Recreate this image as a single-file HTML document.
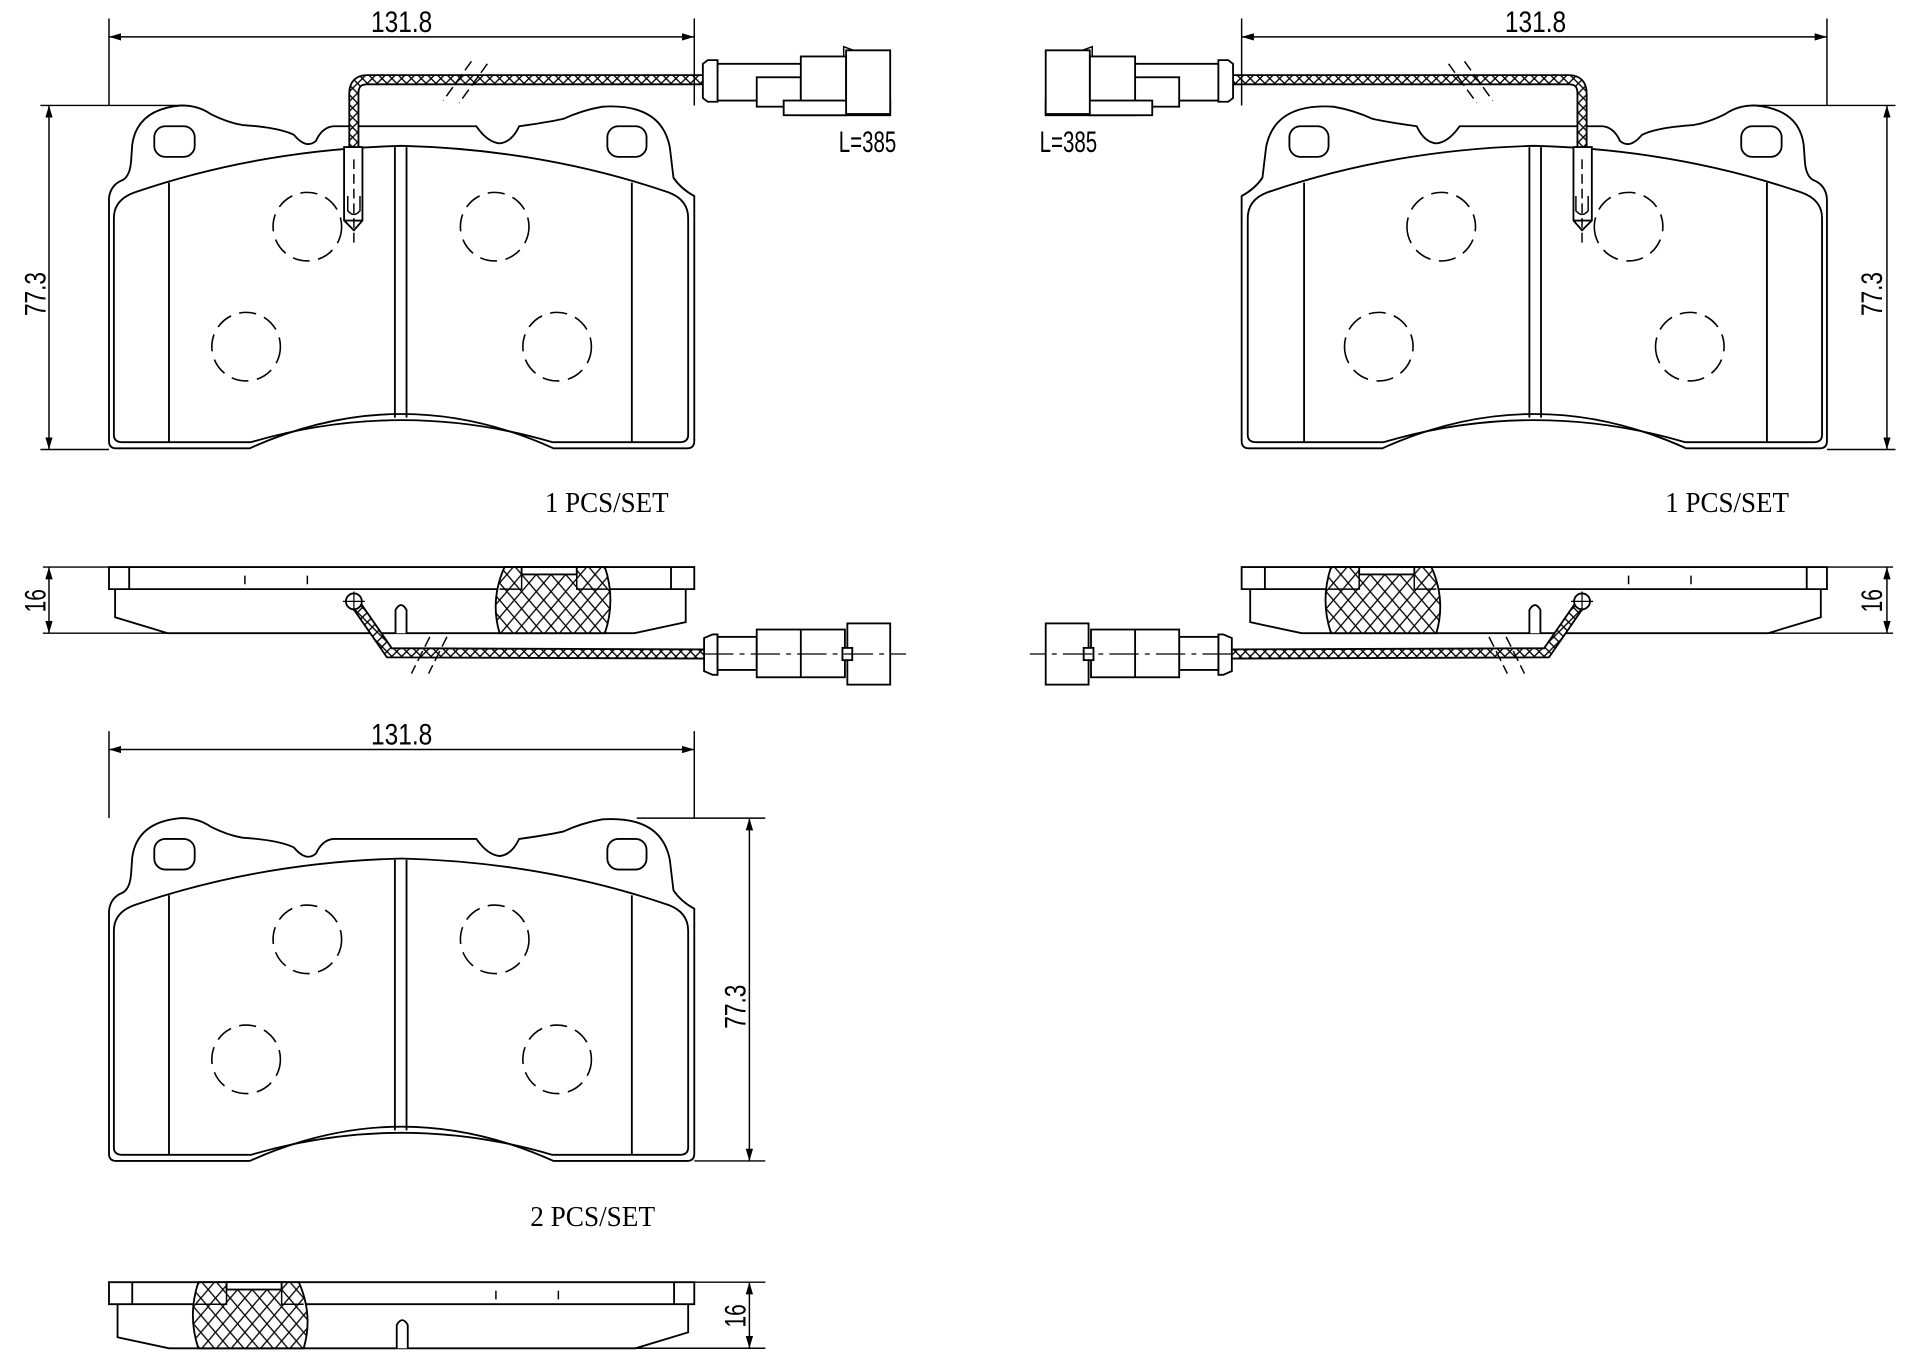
<!DOCTYPE html>
<html><head><meta charset="utf-8"><style>
html,body{margin:0;padding:0;background:#fff;}
svg{display:block;}
.t{font-family:"Liberation Sans",sans-serif;font-size:24px;fill:#000;}
.s{font-family:"Liberation Serif",serif;font-size:23px;fill:#000;}
</style></head><body>
<svg width="1920" height="1357" viewBox="0 0 1568 1108" xmlns="http://www.w3.org/2000/svg">
<defs>
<pattern id="xh" width="12" height="14" patternUnits="userSpaceOnUse">
<rect width="12" height="14" fill="#fff"/>
<path d="M0,0 L12,14 M12,0 L0,14" stroke="#000" stroke-width="1.1"/>
</pattern>
<pattern id="xw" width="8" height="8" patternUnits="userSpaceOnUse">
<rect width="8" height="8" fill="#fff"/>
<path d="M0,0 L8,8 M8,0 L0,8" stroke="#000" stroke-width="1.1"/>
</pattern>
<marker id="ar" viewBox="0 0 10 6" refX="10" refY="3" markerWidth="10" markerHeight="6" orient="auto-start-reverse" markerUnits="userSpaceOnUse">
<path d="M0,0 L10,3 L0,6 Z" fill="#000"/>
</marker>

<g id="pad" fill="none" stroke="#000" stroke-width="1.5">
<path d="M89,360 L89,162 Q90,151 100,147 Q106,144 107,132 L108,118 Q112,89 148,86 Q162,86 172,93 Q186,100 198,102 Q228,104 240,110 Q250,122 258,115 Q263,104 272,103 L389,103 Q398,116 408,117 Q418,116 424,103 Q446,100 460,97 Q475,90 492,87 Q540,84 547,120 L550,145 Q556,154 567,160 L567,360 Q567,366 561,366 L452,366 Q390,338 328,338 Q266,338 204,366 L95,366 Q89,366 89,360 Z"/>
<path d="M93,355 L93,178 Q93,163 110,157 Q212,122 328,119 Q444,122 546,157 Q562,163 562,178 L562,355 Q562,361 555,361 L451,361 Q390,343 328,343 Q266,343 205,361 L100,361 Q93,361 93,355 Z"/>
<rect x="126" y="103" width="33" height="25" rx="9"/>
<rect x="496" y="103" width="32" height="25" rx="9"/>
<path d="M138,149 V361 M516,149 V361 M322.5,120 V341 M332,120 V341"/>
<g stroke-dasharray="14,7" stroke-width="1.3">
<circle cx="251" cy="185" r="28"/>
<circle cx="404" cy="185" r="28"/>
<circle cx="201" cy="283" r="28"/>
<circle cx="455" cy="283" r="28"/>
</g>
</g>

<g id="sensorTop" fill="none" stroke="#000" stroke-width="1.5">
<path d="M574,65 L300,65 Q289,65 289,76 L289,120" stroke-width="9"/>
<path d="M574,65 L300,65 Q289,65 289,76 L289,120" stroke="url(#xw)" stroke-width="6"/>
<path d="M385,50 L362,82 M398,52 L375,84" stroke-width="1.2" stroke-dasharray="9,4"/>
<path d="M281,120 H296 V180 L289,188 L281,180 Z" fill="#fff"/>
<path d="M289,130 V200" stroke-dasharray="8,4" stroke-width="1.2"/>
<path d="M284,160 V172 Q289,178 294,172 V160" stroke-width="1.2"/>
<path d="M281,180 H296"/>
<path d="M574,52 L578,49 H586 V83 H578 L574,80 Z" fill="#fff"/>
<path d="M586,52 H654 M586,82 H618"/>
<rect x="618" y="63" width="36" height="24" fill="#fff"/>
<rect x="654" y="46" width="37" height="48" fill="#fff"/>
<rect x="640" y="82" width="87" height="12" fill="#fff"/>
<rect x="691" y="41" width="36" height="52" fill="#fff"/>
<path d="M689,46 V38 L697,41" stroke-width="1.2"/>
</g>

<g id="side" fill="none" stroke="#000" stroke-width="1.5">
<path d="M89,463 H567 V481 H89 Z"/>
<path d="M105.5,463 V481 M548,463 V481"/>
<path d="M94,481 V504 L137,517 H518 L560,508 V481"/>
<path d="M200,470 V477 M251,470 V477" stroke-width="1.2"/>
<path d="M412,463 Q400,490 408,517 H494 Q503,490 494,463 Z" fill="url(#xh)"/>
<rect x="426" y="463" width="45" height="6" fill="#fff"/>
<path d="M408,481 H426 V463 M471,463 V481 H496" stroke-width="1.2"/>
<path d="M323,517 V498 Q327.5,490 332,498 V517" fill="#fff"/>
</g>

<g id="sensorSide" fill="none" stroke="#000" stroke-width="1.5">
<path d="M291,494 L318,533 L575,534" stroke-width="9"/>
<path d="M291,494 L318,533 L575,534" stroke="url(#xw)" stroke-width="6"/>
<circle cx="289" cy="491" r="6.5" fill="#fff"/>
<path d="M280,491 H298 M289,483 V499" stroke-width="1"/>
<path d="M351,520 L336,550 M365,520 L350,550" stroke-width="1.2" stroke-dasharray="9,4"/>
<path d="M575,521 L582,518 H586 V551 H582 L575,548 Z" fill="#fff"/>
<rect x="586" y="520" width="32" height="27" fill="#fff"/>
<rect x="618" y="514" width="72" height="39" fill="#fff"/>
<path d="M654,514 V553"/>
<rect x="692" y="509" width="35" height="50" fill="#fff"/>
<rect x="688" y="529" width="8" height="10" fill="#fff"/>
<path d="M575,534 H740" stroke-width="1" stroke-dasharray="24,5,4,5"/>
</g>

<g id="dimsTL" fill="none" stroke="#000" stroke-width="1.2">
<path d="M89,15 V86 M567,15 V86"/>
<path d="M89,30 H567" marker-start="url(#ar)" marker-end="url(#ar)"/>
<path d="M33,86 H150 M33,367 H89"/>
<path d="M40,86 V367" marker-start="url(#ar)" marker-end="url(#ar)"/>
<path d="M35,463 H89 M35,517 H137"/>
<path d="M40,463 V517" marker-start="url(#ar)" marker-end="url(#ar)"/>
</g>

<g id="TL">
<use href="#pad"/><use href="#sensorTop"/><use href="#side"/><use href="#sensorSide"/><use href="#dimsTL"/>
</g>
</defs>

<use href="#TL"/>
<use href="#TL" transform="translate(1581,0) scale(-1,1)"/>

<use href="#pad" transform="translate(0,582)"/>
<use href="#side" transform="translate(656,584) scale(-1,1)"/>
<g fill="none" stroke="#000" stroke-width="1.2">
<path d="M89,597 V668 M567,597 V668"/>
<path d="M89,612 H567" marker-start="url(#ar)" marker-end="url(#ar)"/>
<path d="M520,668 H625 M567,948 H625"/>
<path d="M612,668 V948" marker-start="url(#ar)" marker-end="url(#ar)"/>
<path d="M567,1047 H625 M519,1101 H625"/>
<path d="M612,1047 V1101" marker-start="url(#ar)" marker-end="url(#ar)"/>
</g>

<text class="t" x="303" y="26" textLength="50" lengthAdjust="spacingAndGlyphs">131.8</text>
<text class="t" x="1229" y="26" textLength="50" lengthAdjust="spacingAndGlyphs">131.8</text>
<text class="t" x="303" y="608" textLength="50" lengthAdjust="spacingAndGlyphs">131.8</text>
<text class="t" x="685" y="124" textLength="47" lengthAdjust="spacingAndGlyphs">L=385</text>
<text class="t" x="849" y="124" textLength="47" lengthAdjust="spacingAndGlyphs">L=385</text>
<text class="t" transform="translate(37,258) rotate(-90)" textLength="36" lengthAdjust="spacingAndGlyphs">77.3</text>
<text class="t" transform="translate(1537,258) rotate(-90)" textLength="36" lengthAdjust="spacingAndGlyphs">77.3</text>
<text class="t" transform="translate(609,840) rotate(-90)" textLength="36" lengthAdjust="spacingAndGlyphs">77.3</text>
<text class="t" transform="translate(37,500) rotate(-90)" textLength="19" lengthAdjust="spacingAndGlyphs">16</text>
<text class="t" transform="translate(1537,500) rotate(-90)" textLength="19" lengthAdjust="spacingAndGlyphs">16</text>
<text class="t" transform="translate(609,1084) rotate(-90)" textLength="19" lengthAdjust="spacingAndGlyphs">16</text>
<text class="s" x="445" y="418" textLength="101" lengthAdjust="spacingAndGlyphs">1 PCS/SET</text>
<text class="s" x="1360" y="418" textLength="101" lengthAdjust="spacingAndGlyphs">1 PCS/SET</text>
<text class="s" x="433" y="1001" textLength="102" lengthAdjust="spacingAndGlyphs">2 PCS/SET</text>
</svg>
</body></html>
